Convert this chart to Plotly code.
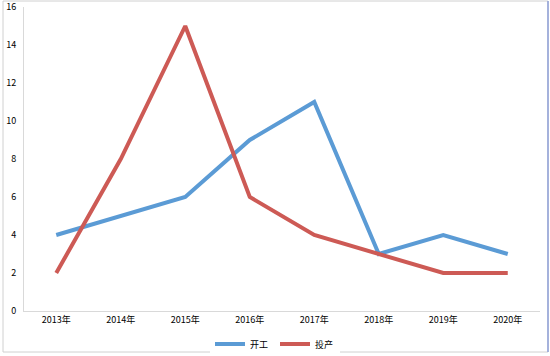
import plotly.graph_objects as go

years = ["2013年", "2014年", "2015年", "2016年", "2017年", "2018年", "2019年", "2020年"]
kaigong = [4, 5, 6, 9, 11, 3, 4, 3]
touchan = [2, 8, 15, 6, 4, 3, 2, 2]

fig = go.Figure()
fig.add_trace(go.Scatter(x=years, y=kaigong, mode="lines", name="开工",
                         line=dict(color="#5B9BD5", width=4)))
fig.add_trace(go.Scatter(x=years, y=touchan, mode="lines", name="投产",
                         line=dict(color="#CD5A55", width=4)))

fig.update_layout(
    width=550, height=356,
    margin=dict(l=24, r=10, t=7, b=45, autoexpand=False),
    paper_bgcolor="white", plot_bgcolor="white",
    font=dict(family="Noto Sans CJK SC", size=9, color="#000"),
    showlegend=True,
    legend=dict(orientation="h", x=0.5, xanchor="center", xref="container",
                y=1 - 344 / 356, yanchor="middle", yref="container",
                font=dict(size=9, color="#000"), entrywidth=20, entrywidthmode="pixels",
                tracegroupgap=0),
    xaxis=dict(type="category", range=[-0.5, 7.5], showgrid=False, showline=True,
               linecolor="#d9d9d9", linewidth=1, ticks="", zeroline=False, automargin=False,
               tickfont=dict(size=9, color="#000")),
    yaxis=dict(range=[0, 16], dtick=2, showgrid=False, showline=True,
               linecolor="#d9d9d9", linewidth=1, ticks="", zeroline=False, automargin=False,
               ticklabelstandoff=5, tickfont=dict(size=9, color="#000")),
)
# outer frame
fig.add_shape(type="rect", xref="paper", yref="paper",
              x0=-21/516, x1=524/516, y0=1 + 6/304, y1=-41/304,
              line=dict(color="#d0d0d0", width=1), fillcolor="rgba(0,0,0,0)")
fig.add_shape(type="line", xref="paper", yref="paper",
              x0=524/516, x1=524/516, y0=1 + 6/304, y1=-41/304,
              line=dict(color="#8fa0d8", width=1.5))

fig.write_html("out.html", config={"displayModeBar": False},
               post_script="document.body.style.margin='0';document.body.style.overflow='hidden';")
